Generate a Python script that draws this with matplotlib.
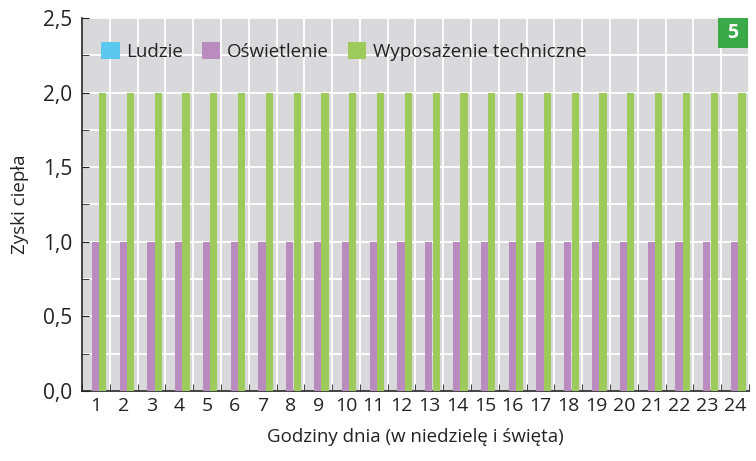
import matplotlib
matplotlib.use("Agg")
import matplotlib.pyplot as plt
from matplotlib.patches import Rectangle
from matplotlib.ticker import MultipleLocator, FuncFormatter
import numpy as np

hours = list(range(1, 25))
ludzie = [0.0] * 24
oswietlenie = [1.0] * 24
wyposazenie = [2.0] * 24
series_names = ["Ludzie", "Oświetlenie", "Wyposażenie techniczne"]
colors = ["#5bc8f0", "#b98bbf", "#9ccb5c"]

plt.rcParams['font.family'] = ['Open Sans', 'DejaVu Sans']

fig = plt.figure(figsize=(7.56, 4.61), dpi=100)
ax = fig.add_axes([82/756, 1-391/461, (749-82)/756, (391-18)/461])
ax.set_facecolor("#d9d9db")

x = np.arange(len(hours))
w = 0.26
offsets = [-0.285, -0.02, 0.245]
for vals, off, c, name in zip([ludzie, oswietlenie, wyposazenie], offsets, colors, series_names):
    ax.bar(x + off, vals, width=w, color=c, label=name, zorder=3, linewidth=0)

ax.set_xlim(-0.5, len(hours) - 0.5)
ax.set_ylim(0, 2.5)

ax.yaxis.set_major_locator(MultipleLocator(0.5))
ax.yaxis.set_minor_locator(MultipleLocator(0.25))
ax.yaxis.set_major_formatter(FuncFormatter(lambda v, p: f"{v:.1f}".replace(".", ",")))
ax.set_xticks(x)
ax.set_xticklabels([str(h) for h in hours])
ax.set_xticks(np.arange(-0.5, len(hours), 1.0), minor=True)

ax.grid(True, which="both", axis="y", color="white", linewidth=1.3, zorder=1)
ax.grid(True, which="minor", axis="x", color="white", linewidth=1.3, zorder=1)
ax.set_axisbelow(True)

ax.tick_params(axis="x", which="major", length=0, labelsize=14, pad=4, colors="#222222")
ax.tick_params(axis="x", which="minor", length=5, direction="in", color="#222222")
ax.tick_params(axis="y", which="both", length=5, direction="in", labelsize=15, pad=7, colors="#222222")

for s in ["top", "right"]:
    ax.spines[s].set_visible(False)
for s in ["left", "bottom"]:
    ax.spines[s].set_color("#222222")
    ax.spines[s].set_linewidth(1.2)

ax.set_xlabel("Godziny dnia (w niedzielę i święta)", fontsize=13.5, color="#222222", labelpad=10)
ax.set_ylabel("Zyski ciepła", fontsize=13.5, color="#222222", labelpad=10)

leg = ax.legend(loc="upper left", bbox_to_anchor=(0.0, 0.985), ncol=3, frameon=False,
                fontsize=13.5, handlelength=1.0, handleheight=1.0, handletextpad=0.35,
                columnspacing=1.0, borderaxespad=0.6)
for t in leg.get_texts():
    t.set_color("#222222")

badge = Rectangle((718/756, 1-48/461), 30/756, 30/461, transform=fig.transFigure,
                  facecolor="#3aaa49", edgecolor="none", zorder=10)
fig.patches.append(badge)
fig.text(733/756, 1-33/461, "5", color="white", fontsize=14, fontweight="bold",
         ha="center", va="center", zorder=11)

fig.savefig("out.png", dpi=100)
